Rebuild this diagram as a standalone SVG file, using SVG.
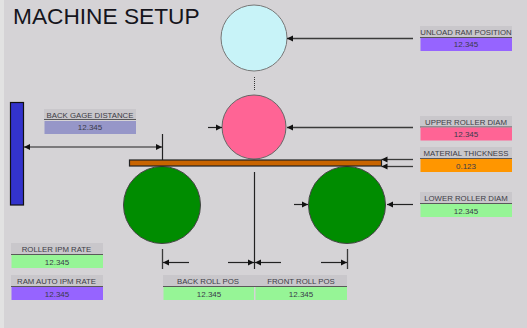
<svg xmlns="http://www.w3.org/2000/svg" width="527" height="328" viewBox="0 0 527 328">
<style>
.l{font-family:"Liberation Sans",Arial,sans-serif;font-size:7.8px;fill:#3c3c46;text-anchor:middle}
.v{font-family:"Liberation Sans",Arial,sans-serif;font-size:8px;fill:#3a3a4a;text-anchor:middle}
.h{fill:#c9c7cb}
.s{stroke:#3a3a3a;stroke-width:.8}
.c{stroke:#222;stroke-width:1.200;fill:none}
.t{stroke:#3a3a3a;stroke-width:1.300;fill:none}
</style>
<defs>
<marker id="a" markerUnits="userSpaceOnUse" markerWidth="7" markerHeight="7" refX="6" refY="3.5" orient="auto-start-reverse"><path d="M0 .5L6 3.5L0 6.500Z" fill="#111"/></marker>
</defs>
<rect width="527" height="328" fill="#d5d3d6"/>
<rect width="4" height="328" fill="#e2e2e2"/>
<text x="13" y="24" font-family="'Liberation Sans',Arial,sans-serif" font-size="22.700" fill="#15151c">MACHINE SETUP</text>
<g id="back-gage"><rect x="10.500" y="102.500" width="13" height="102.500" fill="#3333cc" stroke="#111" stroke-width="1.200"/></g>
<g id="unload-roller"><circle cx="254" cy="38" r="33" fill="#c8f3f8" stroke="#777" stroke-width="1"/></g>
<g id="upper-roller"><circle cx="254" cy="127" r="32" fill="#ff6495" stroke="#666" stroke-width="1"/></g>
<g id="lower-roller-back"><circle cx="162" cy="205" r="38.500" fill="#008c00" stroke="#444" stroke-width="1"/></g>
<g id="lower-roller-front"><circle cx="347" cy="205" r="38.500" fill="#008c00" stroke="#444" stroke-width="1"/></g>
<g id="material"><rect x="129.500" y="160" width="252" height="6" fill="#c86400" stroke="#222" stroke-width="1.200"/></g>
<g id="connectors">
<path class="t" d="M413 38.500H287" marker-end="url(#a)"/>
<path class="t" d="M413 127.500H287" marker-end="url(#a)"/>
<path class="t" d="M413 159.500H381.500" marker-end="url(#a)"/>
<path class="t" d="M413 166.500H381.500" marker-end="url(#a)"/>
<path class="c" d="M413 204.500H387" marker-end="url(#a)"/>
<path class="c" d="M294 204.500H308" marker-end="url(#a)"/>
<path class="c" d="M208 127.500H222" marker-end="url(#a)"/>
<path class="c" d="M24 147H162" marker-start="url(#a)" marker-end="url(#a)"/>
<path class="c" d="M162.500 134V160"/>
<path class="c" d="M254.500 172V269"/>
<path class="t" d="M162.500 249V269M347.500 249V269"/>
<path class="c" d="M189 262.500H163" marker-end="url(#a)"/>
<path class="c" d="M228 262.500H254" marker-end="url(#a)"/>
<path class="c" d="M281 262.500H255" marker-end="url(#a)"/>
<path class="c" d="M321 262.500H347" marker-end="url(#a)"/>
<path d="M254.500 77V90" stroke="#333" stroke-width="1" stroke-dasharray="1 1"/>
</g>
<g id="unload-ram-position"><rect class="h" x="420" y="26" width="92" height="12"/><path class="s" d="M420 37.500H512"/><rect x="420.500" y="38" width="91.500" height="13" fill="#9664ff"/><text class="l" x="466" y="34.500">UNLOAD RAM POSITION</text><text class="v" x="466" y="47">12.345</text></g>
<g id="upper-roller-diam"><rect class="h" x="420" y="116" width="92" height="11"/><path class="s" d="M420 127H512"/><rect x="420.500" y="127.500" width="91.500" height="13" fill="#ff6495"/><text class="l" x="466" y="124.500">UPPER ROLLER DIAM</text><text class="v" x="466" y="137">12.345</text></g>
<g id="material-thickness"><rect class="h" x="420" y="147" width="92" height="11"/><path class="s" d="M420 158.500H512"/><rect x="420.500" y="159" width="91.500" height="13" fill="#ff9600"/><text class="l" x="466" y="156">MATERIAL THICKNESS</text><text class="v" x="466" y="168.500">0.123</text></g>
<g id="lower-roller-diam"><rect class="h" x="420" y="192" width="92" height="11"/><path class="s" d="M420 203.500H512"/><rect x="420.500" y="204" width="91.500" height="13" fill="#96f596"/><text class="l" x="466" y="201">LOWER ROLLER DIAM</text><text class="v" x="466" y="213.500">12.345</text></g>
<g id="back-gage-distance"><rect class="h" x="44" y="109" width="92" height="11"/><path class="s" d="M44 119.500H136"/><rect x="44.500" y="121" width="91.500" height="13" fill="#9696c8"/><text class="l" x="90" y="118">BACK GAGE DISTANCE</text><text class="v" x="90" y="130">12.345</text></g>
<g id="roller-ipm-rate"><rect class="h" x="11" y="243" width="92" height="11"/><path class="s" d="M11 254.500H103"/><rect x="11.500" y="255" width="91.500" height="13" fill="#96f596"/><text class="l" x="56.500" y="252">ROLLER IPM RATE</text><text class="v" x="57" y="264.500">12.345</text></g>
<g id="ram-auto-ipm-rate"><rect class="h" x="11" y="275" width="92" height="11"/><path class="s" d="M11 286.500H103"/><rect x="11.500" y="287" width="91.500" height="13" fill="#9664ff"/><text class="l" x="56.500" y="284">RAM AUTO IPM RATE</text><text class="v" x="57" y="296.500">12.345</text></g>
<g id="back-roll-pos"><rect class="h" x="163" y="275" width="92" height="11"/><path class="s" d="M163 286.500H255"/><rect x="163.500" y="287" width="90.500" height="13" fill="#96f596"/><text class="l" x="208" y="284">BACK ROLL POS</text><text class="v" x="209" y="296.500">12.345</text></g>
<g id="front-roll-pos"><rect class="h" x="255" y="275" width="92" height="11"/><path class="s" d="M255 286.500H347"/><rect x="255.500" y="287" width="91.500" height="13" fill="#96f596"/><text class="l" x="301" y="284">FRONT ROLL POS</text><text class="v" x="301" y="296.500">12.345</text></g>
</svg>
